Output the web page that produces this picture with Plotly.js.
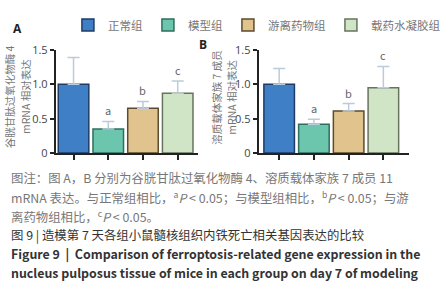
<!DOCTYPE html>
<html><head><meta charset="utf-8">
<script src="https://cdn.plot.ly/plotly-3.0.1.min.js"></script>
<style>html,body{margin:0;padding:0;background:#fff}#c{width:446px;height:300px}</style>
</head><body><div id="c"></div>
<script>
const groups = ["正常组", "模型组", "游离药物组", "载药水凝胶组"];
const valuesA = [1.00, 0.35, 0.65, 0.87];
const errA = [0.39, 0.11, 0.10, 0.18];
const valuesB = [1.00, 0.42, 0.61, 0.95];
const errB = [0.23, 0.07, 0.11, 0.31];
const sigLetters = ["", "a", "b", "c"];
const fills = ["#3f7fc6", "#6cc6ad", "#e0c38d", "#cfe5c6"];
const borders = ["#1e3c66", "#2f6d5e", "#5c4b2e", "#66745f"];
const yTicks = [0, 0.5, 1.0, 1.5];
const yTickText = ["0", "0.5", "1.0", "1.5"];
const titleA = ["谷胱甘肽过氧化物酶 4", "mRNA 相对表达"];
const titleB = ["溶质载体家族 7 成员", "mRNA 相对表达"];

const FONT = "Noto Sans CJK SC, Noto Sans, sans-serif";
const traces = [];
groups.forEach((g, i) => {
  [["x","y",valuesA,errA,true],["x2","y2",valuesB,errB,false]].forEach(([xa,ya,vals,errs,leg]) => {
    traces.push({
      type: "bar", x: [i], y: [vals[i]], xaxis: xa, yaxis: ya, width: 0.88,
      name: g, legendgroup: g, showlegend: leg,
      marker: {color: fills[i], line: {color: borders[i], width: 1.5}},
      error_y: {type: "data", symmetric: false, array: [errs[i]], arrayminus: [0], color: "#bccbd9", thickness: 1.5, width: 6}
    });
  });
});

const annotations = [];
groups.forEach((g, i) => {
  if (sigLetters[i]) {
    annotations.push({xref:"x", yref:"y", x:i, y:valuesA[i]+errA[i], text:sigLetters[i], showarrow:false, xanchor:"center", yanchor:"bottom", yshift:1, font:{size:11, color:"#666", family:FONT}});
    annotations.push({xref:"x2", yref:"y2", x:i, y:valuesB[i]+errB[i], text:sigLetters[i], showarrow:false, xanchor:"center", yanchor:"bottom", yshift:1, font:{size:11, color:"#666", family:FONT}});
  }
});
const ctr = {showarrow:false, xanchor:"center", yanchor:"middle"};
[[titleA, [11, 28]], [titleB, [233, 249]]].forEach(([lines, xs]) => {
  lines.forEach((t, k) => annotations.push(Object.assign({xref:"paper", yref:"paper", x:xs[k]/446, y:1-97/300, text:t, textangle:-90, font:{size:10.5, color:"#777", family:FONT}}, ctr)));
});
annotations.push(Object.assign({xref:"paper", yref:"paper", x:19/446, y:1-28/300, text:"<b>A</b>", font:{size:12, color:"#222", family:"Open Sans, sans-serif"}}, ctr));
annotations.push(Object.assign({xref:"paper", yref:"paper", x:218/446, y:1-44/300, text:"<b>B</b>", font:{size:12, color:"#222", family:"Open Sans, sans-serif"}}, ctr));

const cap = [
  {y:178, t:"图注：图 A，B 分别为谷胱甘肽过氧化物酶 4、溶质载体家族 7 成员 11", c:"#777", s:12.4},
  {y:197, t:"mRNA 表达。与正常组相比，<sup>a</sup><i>P</i> < 0.05；与模型组相比，<sup>b</sup><i>P</i> < 0.05；与游", c:"#777", s:12.4},
  {y:216, t:"离药物组相比，<sup>c</sup><i>P</i> < 0.05。", c:"#777", s:12.4},
  {y:235, t:"图 9 | 造模第 7 天各组小鼠髓核组织内铁死亡相关基因表达的比较", c:"#333", s:12.4},
  {y:254, t:"<b>Figure 9  |  Comparison of ferroptosis-related gene expression in the</b>", c:"#333", s:12.4},
  {y:273, t:"<b>nucleus pulposus tissue of mice in each group on day 7 of modeling</b>", c:"#333", s:12.4}
];
cap.forEach(r => annotations.push({xref:"paper", yref:"paper", x:10/446, y:1-r.y/300, xanchor:"left", yanchor:"middle", text:r.t, showarrow:false, font:{size:r.s, color:r.c, family:FONT}}));

const yax = {range:[0,1.5], domain:[1-153/300, 1-50/300], tickvals:yTicks, ticktext:yTickText, ticks:"outside", ticklen:4, tickwidth:2, tickcolor:"#222", showline:true, linecolor:"#222", linewidth:2, showgrid:false, zeroline:false, tickfont:{size:11, color:"#444", family:"Open Sans, sans-serif"}};
const xax = {showline:true, linecolor:"#222", linewidth:2, ticks:"outside", ticklen:5, tickwidth:2, tickcolor:"#222", tickvals:[0,1,2,3], showticklabels:false, showgrid:false, zeroline:false};

const layout = {
  width:446, height:300, margin:{l:0,r:0,t:0,b:0}, paper_bgcolor:"#fff", plot_bgcolor:"#fff",
  barmode:"overlay", showlegend:true,
  legend:{orientation:"h", x:73/446, y:1-25/300, xanchor:"left", yanchor:"middle", font:{size:11.5, color:"#777", family:FONT}, itemwidth:30, tracegroupgap:0},
  xaxis:Object.assign({}, xax, {domain:[60/446, 213/446], range:[-0.51, 3.59], anchor:"y"}),
  yaxis:Object.assign({}, yax, {anchor:"x"}),
  xaxis2:Object.assign({}, xax, {domain:[278/446, 440/446], range:[-0.59, 3.75], anchor:"y2"}),
  yaxis2:Object.assign({}, yax, {anchor:"x2"}),
  annotations:annotations
};
Plotly.newPlot("c", traces, layout, {displayModeBar:false, staticPlot:true});
</script></body></html>
